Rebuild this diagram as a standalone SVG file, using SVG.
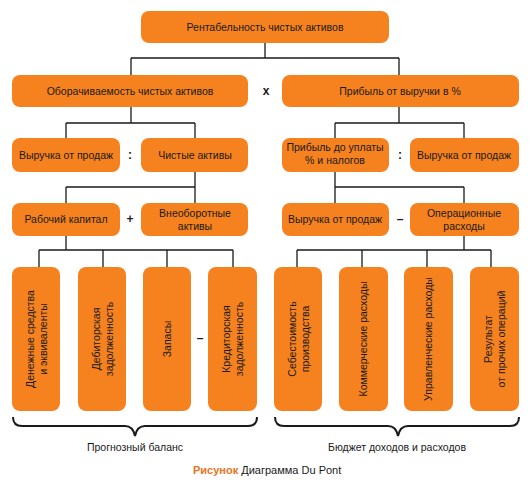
<svg xmlns="http://www.w3.org/2000/svg" width="531" height="488" viewBox="0 0 531 488">
<style>
.box{fill:#f5821f;}
.t{font-family:"Liberation Sans",Arial,sans-serif;font-size:10.5px;fill:#1a1a1a;text-anchor:middle;}
.op{font-family:"Liberation Sans",Arial,sans-serif;font-size:12px;font-weight:bold;fill:#1a1a1a;text-anchor:middle;}
.ln{fill:none;stroke:#1a1a1a;stroke-width:1.3;}
.br{fill:none;stroke:#1a1a1a;stroke-width:2;}
</style>
<rect width="531" height="488" fill="#ffffff"/>
<g id="connectors">
<path class="ln" d="M265 43V58M131 58H399M131 58V75M399 58V75"/>
<path class="ln" d="M131 107V123M66 123H195M66 123V138M195 123V138"/>
<path class="ln" d="M399 107V123M335 123H464M335 123V138M464 123V138"/>
<path class="ln" d="M195 172V187M66 187H195M66 187V203M195 187V203"/>
<path class="ln" d="M335 172V187M335 187H464M335 187V203M464 187V203"/>
<path class="ln" d="M66 236V250M39 250H233M39 250V267M103 250V267M167 250V267M233 250V267"/>
<path class="ln" d="M464 236V250M297 250H491M297 250V267M362 250V267M427 250V267M491 250V267"/>
</g>
<g id="n-top"><rect class="box" x="141" y="11" width="248" height="32" rx="8"/><text class="t" x="265" y="31">Рентабельность чистых активов</text></g>
<g id="n-turnover"><rect class="box" x="12" y="75" width="236" height="32" rx="8"/><text class="t" x="130" y="95">Оборачиваемость чистых активов</text></g>
<g id="op-x"><text class="op" x="266" y="95">x</text></g>
<g id="n-margin"><rect class="box" x="282" y="75" width="237" height="32" rx="8"/><text class="t" x="400" y="95">Прибыль от выручки в %</text></g>
<g id="n-sales1"><rect class="box" x="12" y="138" width="108" height="34" rx="8"/><text class="t" x="66" y="159">Выручка от продаж</text></g>
<g id="op-div1"><text class="op" x="130" y="159">:</text></g>
<g id="n-netassets"><rect class="box" x="141" y="138" width="107" height="34" rx="8"/><text class="t" x="195" y="159">Чистые активы</text></g>
<g id="n-ebit"><rect class="box" x="282" y="138" width="107" height="34" rx="8"/><text class="t" x="335" y="151">Прибыль до уплаты</text><text class="t" x="335" y="164">% и налогов</text></g>
<g id="op-div2"><text class="op" x="400" y="159">:</text></g>
<g id="n-sales2"><rect class="box" x="410" y="138" width="109" height="34" rx="8"/><text class="t" x="464" y="159">Выручка от продаж</text></g>
<g id="n-wc"><rect class="box" x="12" y="203" width="108" height="33" rx="8"/><text class="t" x="66" y="223">Рабочий капитал</text></g>
<g id="op-plus"><text class="op" x="130" y="223">+</text></g>
<g id="n-fixed"><rect class="box" x="141" y="203" width="107" height="33" rx="8"/><text class="t" x="195" y="217">Внеоборотные</text><text class="t" x="195" y="230">активы</text></g>
<g id="n-sales3"><rect class="box" x="282" y="203" width="107" height="33" rx="8"/><text class="t" x="335" y="223">Выручка от продаж</text></g>
<g id="op-minus1"><text class="op" x="400" y="223">–</text></g>
<g id="n-opex"><rect class="box" x="410" y="203" width="109" height="33" rx="8"/><text class="t" x="464" y="217">Операционные</text><text class="t" x="464" y="230">расходы</text></g>
<g id="n-cash"><rect class="box" x="12" y="267" width="48" height="144" rx="8"/><text class="t" transform="translate(36 339) rotate(-90)"><tspan x="0" y="-2">Денежные средства</tspan><tspan x="0" y="11">и эквиваленты</tspan></text></g>
<g id="n-receiv"><rect class="box" x="78" y="267" width="48" height="144" rx="8"/><text class="t" transform="translate(102 339) rotate(-90)"><tspan x="0" y="-2">Дебиторская</tspan><tspan x="0" y="11">задолженность</tspan></text></g>
<g id="n-stock"><rect class="box" x="143" y="267" width="48" height="144" rx="8"/><text class="t" transform="translate(167 339) rotate(-90)" x="0" y="4">Запасы</text></g>
<g id="op-minus2"><text class="op" x="200" y="342">–</text></g>
<g id="n-payab"><rect class="box" x="208" y="267" width="49" height="144" rx="8"/><text class="t" transform="translate(232 339) rotate(-90)"><tspan x="0" y="-2">Кредиторская</tspan><tspan x="0" y="11">задолженность</tspan></text></g>
<g id="n-cogs"><rect class="box" x="274" y="267" width="48" height="144" rx="8"/><text class="t" transform="translate(298 339) rotate(-90)"><tspan x="0" y="-2">Себестоимость</tspan><tspan x="0" y="11">производства</tspan></text></g>
<g id="n-sell"><rect class="box" x="339" y="267" width="49" height="144" rx="8"/><text class="t" transform="translate(363 339) rotate(-90)" x="0" y="4">Коммерческие расходы</text></g>
<g id="n-admin"><rect class="box" x="404" y="267" width="49" height="144" rx="8"/><text class="t" transform="translate(428 339) rotate(-90)" x="0" y="4">Управленческие расходы</text></g>
<g id="n-other"><rect class="box" x="470" y="267" width="49" height="144" rx="8"/><text class="t" transform="translate(494 339) rotate(-90)"><tspan x="0" y="-2">Результат</tspan><tspan x="0" y="11">от прочих операций</tspan></text></g>
<g id="brace-left"><path class="br" d="M13 417Q13 426 22 426H125Q133 426 135 436Q137 426 145 426H248Q257 426 257 417"/><text class="t" x="135" y="451">Прогнозный баланс</text></g>
<g id="brace-right"><path class="br" d="M275 417Q275 426 284 426H388Q396 426 398 436Q400 426 408 426H510Q519 426 519 417"/><text class="t" x="397" y="451">Бюджет доходов и расходов</text></g>
<g id="caption"><text x="193" y="474" style="font-family:'Liberation Sans',Arial,sans-serif;font-size:11px;"><tspan font-weight="bold" fill="#e8731c">Рисунок</tspan><tspan fill="#1a1a1a"> Диаграмма Du Pont</tspan></text></g>
</svg>
